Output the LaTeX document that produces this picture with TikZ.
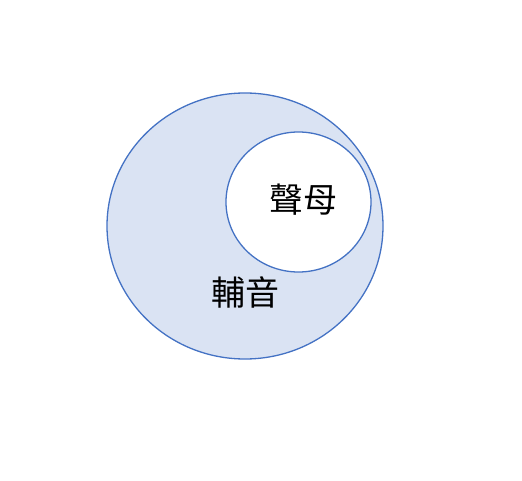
\documentclass[tikz,border=0pt]{standalone}
\usepackage{fontspec}
\newfontfamily\cjk{Noto Sans CJK TC}
\definecolor{edgeblue}{HTML}{4472C4}
\definecolor{fillblue}{HTML}{DAE3F3}
\begin{document}
\begin{tikzpicture}[x=1pt,y=-1pt,
  setring/.style={draw=edgeblue, line width=1.3pt},
  lbl/.style={font=\cjk\fontsize{34}{40}\selectfont, inner sep=0pt}]
\useasboundingbox (0,0) rectangle (522,481);
\path[setring, fill=fillblue] (245,226) ellipse [x radius=138, y radius=133];
\path[setring, fill=white] (298.5,202) ellipse [x radius=72.5, y radius=70];
\node[lbl] (sm) at (303,200) {聲母};
\node[lbl] (fy) at (245,292) {輔音};
\end{tikzpicture}
\end{document}
